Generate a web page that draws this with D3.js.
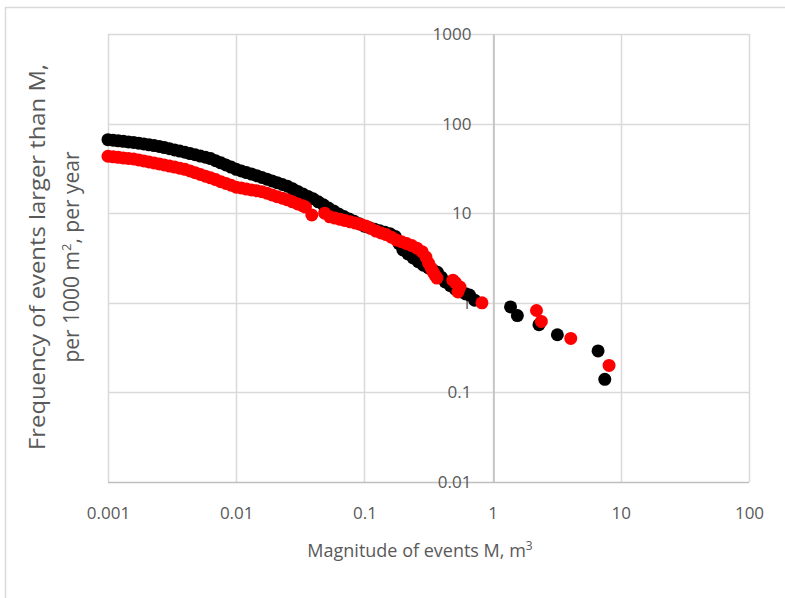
<!DOCTYPE html>
<html>
<head>
<meta charset="utf-8">
<script src="https://cdn.jsdelivr.net/npm/d3@7"></script>
<style>
  body { margin: 0; background: #fff; }
  text { font-family: "Open Sans", "Noto Sans", sans-serif; fill: #595959; }
</style>
</head>
<body>
<div id="chart"></div>
<script>
// magnitude M (m3) and frequency (per 1000 m2, per year)
var blackM = [0.001, 0.001096, 0.001202, 0.001318, 0.001445, 0.001585, 0.001738, 0.001905, 0.002089, 0.002291,
  0.002512, 0.002754, 0.00302, 0.003311, 0.003631, 0.003981, 0.004365, 0.004786, 0.005248, 0.005754,
  0.00631, 0.006918, 0.007586, 0.008318, 0.00912, 0.01, 0.01096, 0.01202, 0.01318, 0.01445,
  0.01585, 0.01738, 0.01905, 0.02089, 0.02291, 0.02512, 0.02754, 0.0302, 0.03311, 0.03631,
  0.03981, 0.04365, 0.04786, 0.05248, 0.05754, 0.0631, 0.06918, 0.07586, 0.08318, 0.0912,
  0.1, 0.1096, 0.1202, 0.1318, 0.1445, 0.1585, 0.1738, 0.1862, 0.1995, 0.2188,
  0.2399, 0.263, 0.2884, 0.3162, 0.3467, 0.3715, 0.3981, 0.4266, 0.4677, 0.5129,
  0.5623, 0.6166, 0.6607, 0.7244, 1.38, 1.56, 2.3, 3.2, 6.65, 7.5];
var blackF = [66.1, 65.2, 64.3, 63.4, 62.5, 61.7, 60.4, 59.2, 57.9, 56.8,
  55.6, 54.0, 52.4, 50.8, 49.3, 47.9, 46.3, 44.9, 43.4, 42.1,
  40.7, 38.5, 36.5, 34.5, 32.7, 30.9, 29.6, 28.4, 27.3, 26.2,
  25.1, 24.0, 22.9, 21.9, 20.9, 20.0, 18.7, 17.5, 16.4, 15.4,
  14.5, 13.4, 12.4, 11.4, 10.6, 9.77, 9.18, 8.63, 8.11, 7.62,
  7.16, 6.89, 6.62, 6.37, 6.12, 5.89, 5.5, 4.57, 3.89, 3.51,
  3.16, 2.88, 2.63, 2.45, 2.29, 2.19, 1.93, 1.71, 1.55, 1.41,
  1.33, 1.26, 1.22, 1.07, 0.9, 0.72, 0.57, 0.44, 0.29, 0.14];

var redM = [0.001, 0.001096, 0.001202, 0.001318, 0.001445, 0.001585, 0.001738, 0.001905, 0.002089, 0.002291,
  0.002512, 0.002754, 0.00302, 0.003311, 0.003631, 0.003981, 0.004365, 0.004786, 0.005248, 0.005754,
  0.00631, 0.006918, 0.007586, 0.008318, 0.00912, 0.01, 0.01096, 0.01202, 0.01318, 0.01445,
  0.01585, 0.01738, 0.01905, 0.02089, 0.02291, 0.02512, 0.02754, 0.0302, 0.03311, 0.03467,
  0.0389, 0.049, 0.0537, 0.0589, 0.0646, 0.0708, 0.0776, 0.0851, 0.0933, 0.1023,
  0.1122, 0.123, 0.1349, 0.1479, 0.1622, 0.1778, 0.195, 0.2138, 0.2344, 0.257,
  0.2818, 0.302, 0.3162, 0.3311, 0.3428, 0.3548, 0.3681, 0.4898, 0.5129, 0.537,
  0.557, 0.826, 2.2, 2.4, 4.07, 8.1];
var redF = [43.2, 42.6, 42.0, 41.4, 40.8, 40.3, 39.3, 38.3, 37.3, 36.4,
  35.5, 34.5, 33.6, 32.7, 31.8, 30.9, 29.6, 28.3, 27.1, 25.9,
  24.8, 23.7, 22.5, 21.5, 20.5, 19.5, 19.1, 18.6, 18.2, 17.8,
  17.4, 16.7, 16.0, 15.3, 14.7, 14.1, 13.4, 12.7, 12.1, 11.7,
  9.55, 10.0, 9.12, 8.83, 8.55, 8.28, 8.02, 7.76, 7.52, 7.21,
  6.75, 6.32, 6.03, 5.77, 5.40, 5.01, 4.80, 4.58, 4.35, 4.07,
  3.72, 3.24, 2.78, 2.45, 2.21, 2.04, 1.89, 1.79, 1.68, 1.32,
  1.50, 1.0, 0.82, 0.62, 0.40, 0.20];

var xTicks = [0.001, 0.01, 0.1, 1, 10, 100];
var xTickLabels = ["0.001", "0.01", "0.1", "1", "10", "100"];
var yTicks = [0.01, 0.1, 1, 10, 100, 1000];
var yTickLabels = ["0.01", "0.1", "1", "10", "100", "1000"];

var width = 785,
  height = 598;

var plotLeft = 108, plotRight = 749, plotTop = 34, plotBottom = 482;

var x = d3.scaleLog().domain([0.001, 100]).range([plotLeft, plotRight]);
var y = d3.scaleLog().domain([0.01, 1000]).range([plotBottom, plotTop]);

var svg = d3.select("#chart").append("svg")
  .attr("width", width)
  .attr("height", height);

// outer chart frame
svg.append("rect")
  .attr("x", 5.5)
  .attr("y", 7.5)
  .attr("width", 820)
  .attr("height", 620)
  .attr("fill", "none")
  .attr("stroke", "#d9d9d9")
  .attr("stroke-width", 1.5);

// grid
svg.append("g").selectAll("line")
  .data(xTicks)
  .enter().append("line")
  .attr("x1", d => Math.round(x(d)) + 0.5)
  .attr("x2", d => Math.round(x(d)) + 0.5)
  .attr("y1", plotTop)
  .attr("y2", plotBottom)
  .attr("stroke", "#d9d9d9")
  .attr("stroke-width", 1.5);

svg.append("g").selectAll("line")
  .data(yTicks)
  .enter().append("line")
  .attr("x1", plotLeft)
  .attr("x2", plotRight)
  .attr("y1", d => Math.round(y(d)) + 0.5)
  .attr("y2", d => Math.round(y(d)) + 0.5)
  .attr("stroke", d => d == 0.01 ? "#bfbfbf" : "#d9d9d9")
  .attr("stroke-width", 1.5);

// y axis crosses at M = 1
var yAxis = svg.append("g")
  .attr("transform", "translate(" + (Math.round(x(1)) + 0.5) + ",0)")
  .call(d3.axisLeft(y)
    .tickValues(yTicks)
    .tickFormat((d, i) => yTickLabels[i])
    .tickSize(0)
    .tickPadding(22));

yAxis.select(".domain")
  .attr("stroke", "#bfbfbf")
  .attr("stroke-width", 1.5);

yAxis.selectAll("text")
  .attr("font-size", 17)
  .attr("font-family", "Open Sans")
  .attr("fill", "#595959");

var xAxis = svg.append("g")
  .attr("transform", "translate(0," + plotBottom + ")")
  .call(d3.axisBottom(x)
    .tickValues(xTicks)
    .tickFormat((d, i) => xTickLabels[i])
    .tickSize(0)
    .tickPadding(25));

xAxis.select(".domain").remove();

xAxis.selectAll("text")
  .attr("font-size", 17)
  .attr("font-family", "Open Sans")
  .attr("fill", "#595959");

// series, red drawn last
var series = [
  { m: blackM, f: blackF, color: "#000000" },
  { m: redM, f: redF, color: "#ff0000" }
];

series.forEach(function (s) {
  svg.append("g").selectAll("circle")
    .data(d3.range(s.m.length))
    .enter().append("circle")
    .attr("cx", i => x(s.m[i]))
    .attr("cy", i => y(s.f[i]))
    .attr("r", 6.5)
    .attr("fill", s.color);
});

// axis titles
var xTitle = svg.append("text")
  .attr("x", 420)
  .attr("y", 557)
  .attr("text-anchor", "middle")
  .attr("font-size", 18);
xTitle.append("tspan").text("Magnitude of events M, m");
xTitle.append("tspan").attr("font-size", 12).attr("dy", -7).text("3");

var yTitle = svg.append("text")
  .attr("transform", "translate(45,257) rotate(-90)")
  .attr("text-anchor", "middle")
  .attr("font-size", 22)
  .attr("textLength", 386)
  .attr("lengthAdjust", "spacingAndGlyphs")
  .text("Frequency of events larger than M,");

var yTitle2 = svg.append("text")
  .attr("transform", "translate(79,257) rotate(-90)")
  .attr("text-anchor", "middle")
  .attr("font-size", 21);
yTitle2.append("tspan").text("per 1000 m");
yTitle2.append("tspan").attr("font-size", 13).attr("dy", -8).text("2");
yTitle2.append("tspan").attr("dy", 8).text(", per year");
</script>
</body>
</html>
